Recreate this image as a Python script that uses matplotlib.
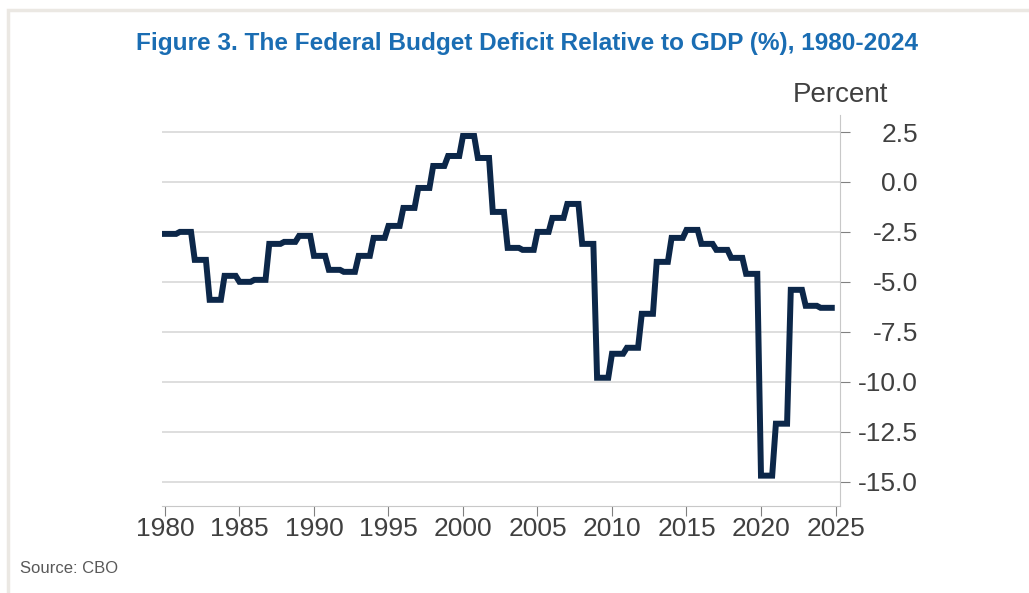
import numpy as np
import matplotlib
matplotlib.use("Agg")
import matplotlib.pyplot as plt
from matplotlib.patches import Rectangle

# ------------------ DATA -------------------------#
years = np.arange(1980, 2025)
deficit = [-2.6, -2.5, -3.9, -5.9, -4.7, -5.0, -4.9, -3.1, -3.0, -2.7,
           -3.7, -4.4, -4.5, -3.7, -2.8, -2.2, -1.3, -0.3, 0.8, 1.3,
           2.3, 1.2, -1.5, -3.3, -3.4, -2.5, -1.8, -1.1, -3.1, -9.8,
           -8.6, -8.3, -6.6, -4.0, -2.8, -2.4, -3.1, -3.4, -3.8, -4.6,
           -14.7, -12.1, -5.4, -6.2, -6.3]
quarters = [0, 0.25, 0.5, 0.75]

xticks = np.arange(1980, 2026, 5)
yticks = np.arange(2.5, -15.1, -2.5)

title = "Figure 3. The Federal Budget Deficit Relative to GDP (%), 1980-2024"
source = "Source: CBO"

# annual values held across the four quarters of each year
xq = (years[:, None] + np.array(quarters)[None, :]).ravel()
yq = np.repeat(deficit, len(quarters))

# ------------------- PLOTTING ------------------------#
fam = ["Liberation Sans", "DejaVu Sans"]
grey_txt = "#404040"

fig = plt.figure(figsize=(10.29, 5.93), dpi=100)
ax = fig.add_axes([0.1574, 0.1467, 0.6589, 0.659])

ax.plot(xq, yq, color="#0c2749", linewidth=4.3, solid_joinstyle="miter", zorder=3)

ax.set_xlim(1979.8, 2025.3)
ax.set_ylim(-16.22, 3.34)
ax.set_xticks(xticks)
ax.set_yticks(yticks)
ax.set_yticklabels([f"{v:.1f}" for v in yticks], family=fam, fontsize=19,
                   color=grey_txt, ha="right")
ax.set_xticklabels([str(v) for v in xticks], family=fam, fontsize=19, color=grey_txt)

ax.yaxis.tick_right()
ax.grid(axis="y", color="#d4d4d4", linewidth=1.1, zorder=0)
for s in ["top", "left"]:
    ax.spines[s].set_visible(False)
ax.spines["right"].set_color("#c8c8c8")
ax.spines["bottom"].set_color("#c8c8c8")
ax.tick_params(axis="y", length=7, color="#808080", pad=49)
ax.tick_params(axis="x", length=7, color="#808080", pad=1)

fig.text(0.8163, 0.84, "Percent", family=fam, fontsize=20, color=grey_txt,
         ha="center", va="center")
fig.text(0.5126, 0.926, title, family=fam, fontsize=17.6, fontweight="bold",
         color="#1a6db3", ha="center", va="center")
fig.text(0.019, 0.041, source, family=fam, fontsize=12, color="#595959",
         ha="left", va="center")

# light frame on the top and left edges
fig.add_artist(Rectangle((0.008, -0.01), 1.1, 0.993, transform=fig.transFigure,
                         fill=False, edgecolor="#ebe8e3", linewidth=2.5))

fig.savefig("out.png", dpi=100)
